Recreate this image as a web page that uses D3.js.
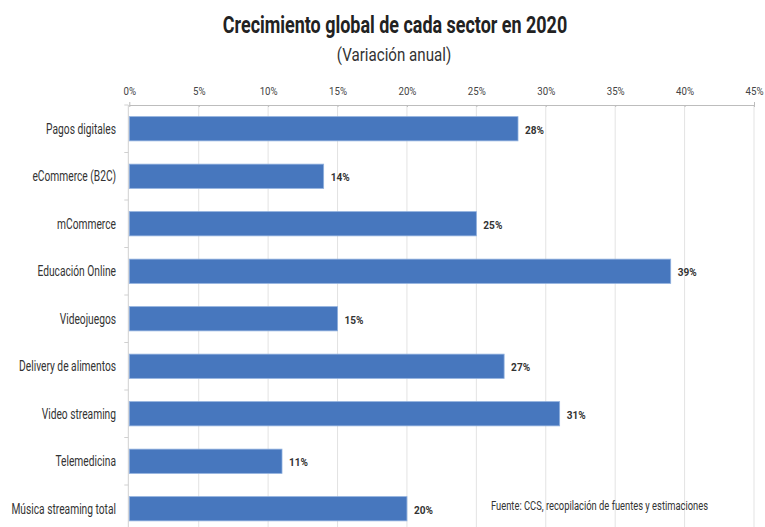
<!DOCTYPE html>
<html>
<head>
<meta charset="utf-8">
<script src="https://cdn.jsdelivr.net/npm/d3@7"></script>
<style>
  html, body { margin: 0; padding: 0; background: #fff; }
  svg { display: block; }
  text { font-family: Roboto, "Liberation Sans", sans-serif; }
</style>
</head>
<body>
<script>
// Sectors and their year-over-year growth (%) in 2020
const categories = [
  "Pagos digitales",
  "eCommerce (B2C)",
  "mCommerce",
  "Educación Online",
  "Videojuegos",
  "Delivery de alimentos",
  "Video streaming",
  "Telemedicina",
  "Música streaming total"
];
const growth = [28, 14, 25, 39, 15, 27, 31, 11, 20];
const tickValues = [0, 5, 10, 15, 20, 25, 30, 35, 40, 45];

const titleText = "Crecimiento global de cada sector en 2020";
const subtitleText = "(Variación anual)";
const sourceText = "Fuente: CCS, recopilación de fuentes y estimaciones";

const W = 765, H = 527;
const plotLeft = 129.3, plotRight = 754, plotTop = 105, bandStep = 47.5;

// Narrow the glyphs of a text selection horizontally (condensed typeface look)
function condense(sel, factor) {
  sel.each(function () {
    const w = this.getComputedTextLength();
    d3.select(this).attr("textLength", w * factor).attr("lengthAdjust", "spacingAndGlyphs");
  });
  return sel;
}

const svg = d3.select("body").append("svg")
  .attr("width", W).attr("height", H);

const x = d3.scaleLinear().domain([0, 45]).range([plotLeft, plotRight]);
const y = d3.scaleBand().domain(categories)
  .range([plotTop, plotTop + bandStep * categories.length])
  .paddingInner(0.49).paddingOuter(0.245);

// Vertical gridlines
svg.append("g").selectAll("line").data(tickValues.slice(1)).join("line")
  .attr("x1", d => x(d)).attr("x2", d => x(d))
  .attr("y1", plotTop).attr("y2", H)
  .attr("stroke", "#e3e3e3").attr("stroke-width", 1);

// Top value axis
const xAxis = svg.append("g")
  .attr("transform", `translate(0,${plotTop})`)
  .call(d3.axisTop(x).tickValues(tickValues).tickFormat(d => d + "%").tickSize(3).tickPadding(7));
xAxis.select(".domain").attr("stroke", "#bdbdbd");
xAxis.selectAll(".tick line").attr("stroke", "#bdbdbd").attr("y2", 2);
xAxis.selectAll(".tick text")
  .attr("fill", "#444").attr("font-size", 11)
  .attr("font-family", "Roboto, sans-serif")
  .attr("dy", 0).attr("y", -10);
condense(xAxis.selectAll(".tick text"), 0.88);

// Left category axis
const yAxisLine = svg.append("g");
yAxisLine.append("line")
  .attr("x1", plotLeft - 1).attr("x2", plotLeft - 1)
  .attr("y1", plotTop).attr("y2", H)
  .attr("stroke", "#d0d0d0");
yAxisLine.selectAll(".cat-tick").data(d3.range(categories.length + 1)).join("line")
  .attr("class", "cat-tick")
  .attr("x1", plotLeft - 5).attr("x2", plotLeft - 1)
  .attr("y1", i => y.range()[0] + i * y.step())
  .attr("y2", i => y.range()[0] + i * y.step())
  .attr("stroke", "#d0d0d0");

const catLabels = svg.append("g").selectAll("text").data(categories).join("text")
  .attr("x", 116)
  .attr("y", d => y(d) + y.bandwidth() / 2 + 4.8)
  .attr("text-anchor", "end")
  .attr("font-size", 14)
  .attr("fill", "#333")
  .text(d => d);
condense(catLabels, 0.73);

// Bars
svg.append("g").selectAll("rect").data(growth).join("rect")
  .attr("x", x(0))
  .attr("y", (d, i) => y(categories[i]))
  .attr("width", d => x(d) - x(0))
  .attr("height", y.bandwidth())
  .attr("fill", "#4777be")
  .attr("stroke", "#8fb0de")
  .attr("stroke-width", 0.8);

// Value labels
const valLabels = svg.append("g").selectAll("text").data(growth).join("text")
  .attr("x", d => x(d) + 7)
  .attr("y", (d, i) => y(categories[i]) + y.bandwidth() / 2 + 5)
  .attr("font-size", 11.7)
  .attr("font-weight", "bold")
  .attr("fill", "#333")
  .text(d => d + "%");
condense(valLabels, 0.86);

// Title and subtitle
const title = svg.append("text")
  .attr("x", 395).attr("y", 33)
  .attr("text-anchor", "middle")
  .attr("font-size", 23)
  .attr("font-weight", "bold")
  .attr("fill", "#222")
  .text(titleText);
condense(title, 0.78);
const subtitle = svg.append("text")
  .attr("x", 394).attr("y", 61)
  .attr("text-anchor", "middle")
  .attr("font-size", 18.7)
  .attr("fill", "#333")
  .text(subtitleText);
condense(subtitle, 0.81);

// Source note
const source = svg.append("text")
  .attr("x", 491).attr("y", 510)
  .attr("font-size", 13)
  .attr("fill", "#333")
  .text(sourceText);
condense(source, 0.72);
</script>
</body>
</html>
